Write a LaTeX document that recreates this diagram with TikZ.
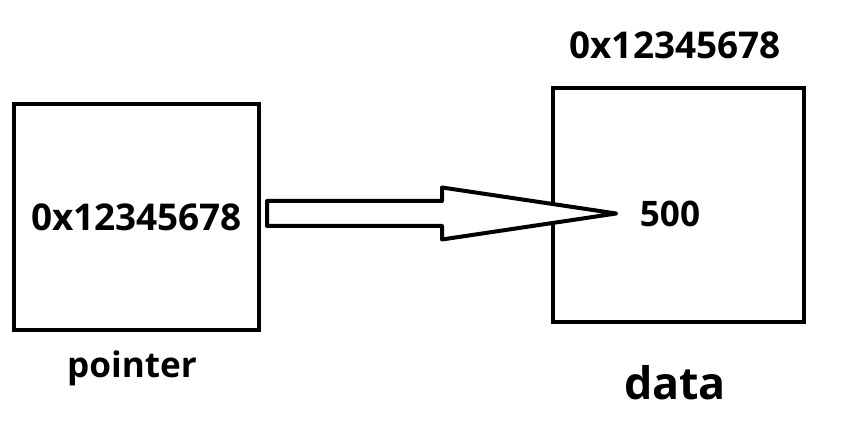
\documentclass[tikz,border=0pt]{standalone}
\usepackage{fontspec}
\setmainfont{Open Sans}
\usetikzlibrary{positioning,calc}

\begin{document}
\begin{tikzpicture}[cell/.style={rectangle,draw=black,line width=0.08cm},
  addr/.style={font=\fontsize{21}{24}\selectfont\bfseries},
  lbl/.style={font=\fontsize{20}{24}\selectfont\bfseries}]
  \useasboundingbox (0,0) rectangle (17.06,8.44);
  \node[cell,minimum width=4.9cm,minimum height=4.52cm,addr] (ptr) at (2.73,4.1){0x12345678};
  \node[cell,minimum width=5.02cm,minimum height=4.68cm] (dat) at (13.57,4.34){};
  \node[lbl] (val) at (13.4,4.17){500};
  \node[addr,anchor=base] (adr) at (13.5,7.26){0x12345678};
  \node[lbl,anchor=base] (pn) at (2.64,0.88){pointer};
  \node[lbl,font=\fontsize{25.5}{30}\selectfont\bfseries,anchor=base] (dn) at (13.5,0.44){data};

  % hollow arrow from the pointer to the value
  \coordinate (tip) at ($(val.west)+(-0.35,0)$);
  \coordinate (tail) at ($(ptr.east |- tip)+(0.12,0)$);
  \draw[line width=0.08cm,line join=round,fill=white] ($(tail)+(0,0.25)$) -- ($(tail)+(3.5,0.25)$) -- ++(0,0.27)
    -- (tip) -- ($(tail)+(3.5,-0.52)$) -- ++(0,0.27) -- ($(tail)+(0,-0.25)$) -- cycle;
\end{tikzpicture}
\end{document}
